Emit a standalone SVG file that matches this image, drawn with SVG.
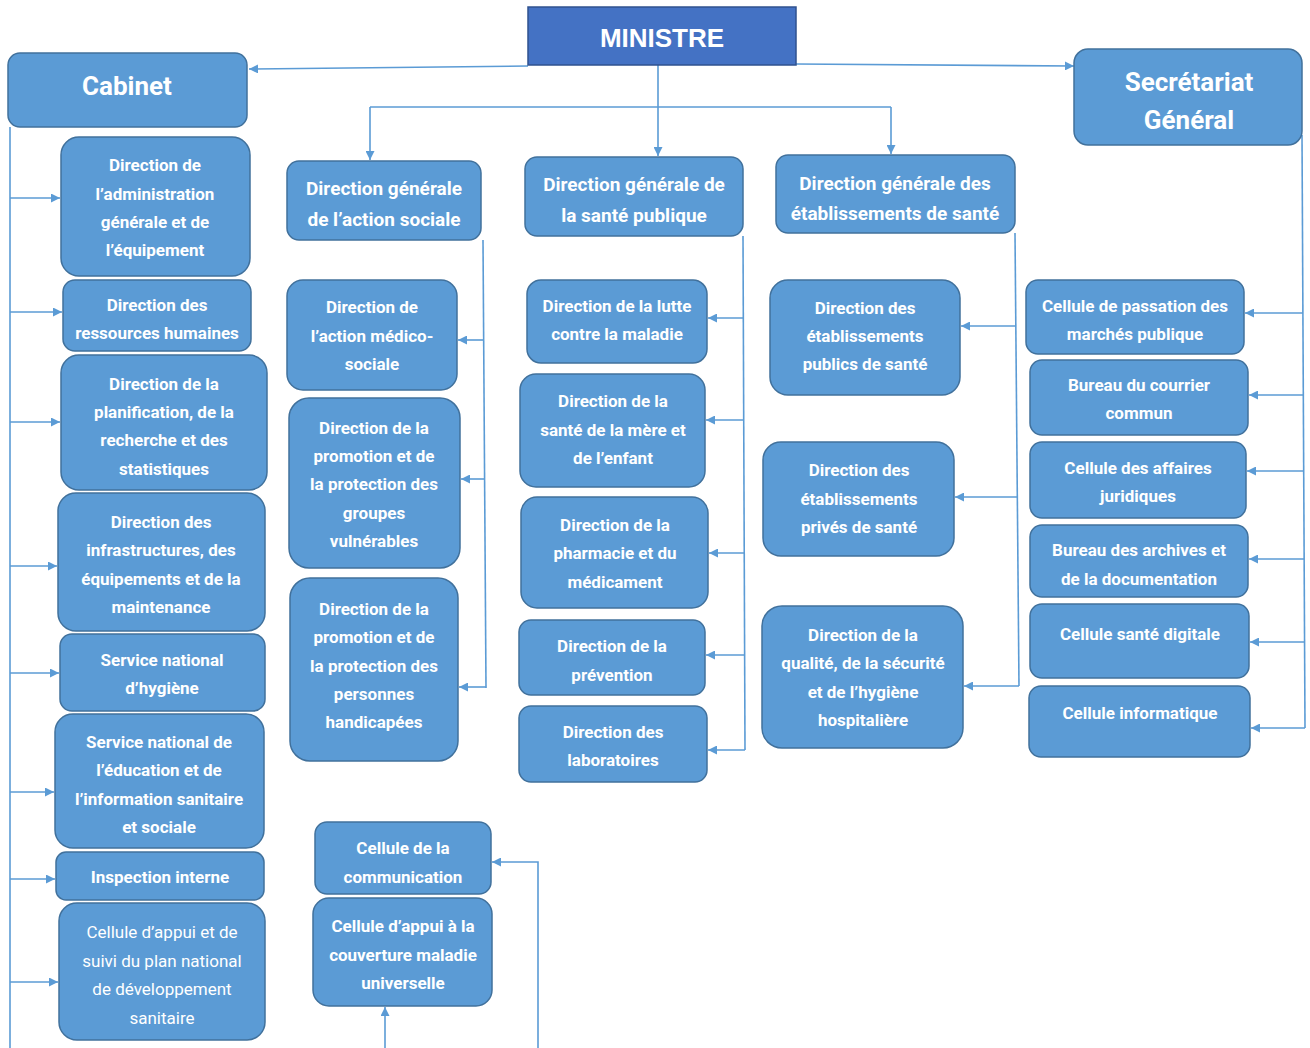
<svg xmlns="http://www.w3.org/2000/svg" width="1310" height="1048" viewBox="0 0 1310 1048">
<style>
.box{fill:#5B9BD5;stroke:#41719C;stroke-width:1.5}
.min{fill:#4472C4;stroke:#2F528F;stroke-width:1.5}
text{font-family:Roboto,"Liberation Sans",sans-serif;fill:#fff;text-anchor:middle;dominant-baseline:central}
.t{font-size:17px;font-weight:700}
.tn{font-size:17px;font-weight:400}
.tg{font-size:19px;font-weight:700}
.tb{font-size:26px;font-weight:700}
.tm{font-family:"Liberation Sans",Arial,sans-serif;font-size:26px;font-weight:700}
.c{fill:none;stroke:#5B9BD5;stroke-width:1.6}
.a{marker-end:url(#ah)}
</style>
<defs>
<marker id="ah" viewBox="0 0 10 10" refX="10" refY="5" markerWidth="9" markerHeight="9" markerUnits="userSpaceOnUse" orient="auto">
<path d="M0,0 L10,5 L0,10 z" fill="#5B9BD5"/>
</marker>
</defs>
<rect width="1310" height="1048" fill="#fff"/>
<g id="connectors">
<path class="c a" d="M528,66 L249,69"/>
<path class="c a" d="M796,64 L1074,66"/>
<path class="c a" d="M658,65 L658,156"/>
<path class="c" d="M370,107 L891,107"/>
<path class="c a" d="M370,107 L370,160"/>
<path class="c a" d="M891,107 L891,154"/>
<path class="c" d="M10,127 L10,1048"/>
<path class="c a" d="M10,198 L60,198"/>
<path class="c a" d="M10,312 L62,312"/>
<path class="c a" d="M10,422 L60,422"/>
<path class="c a" d="M10,566 L57,566"/>
<path class="c a" d="M10,673 L59,673"/>
<path class="c a" d="M10,792 L54,792"/>
<path class="c a" d="M10,879 L55,879"/>
<path class="c a" d="M10,982 L58,982"/>
<path class="c" d="M483,240 L486,688"/>
<path class="c a" d="M484,340 L458,340"/>
<path class="c a" d="M485,479 L461,479"/>
<path class="c a" d="M486,687 L459,687"/>
<path class="c" d="M743,236 L745,750"/>
<path class="c a" d="M744,318 L708,318"/>
<path class="c a" d="M744,420 L706,420"/>
<path class="c a" d="M745,553 L709,553"/>
<path class="c a" d="M745,655 L706,655"/>
<path class="c a" d="M745,750 L708,750"/>
<path class="c" d="M1015,233 L1019,686"/>
<path class="c a" d="M1016,326 L961,326"/>
<path class="c a" d="M1017,497 L955,497"/>
<path class="c a" d="M1019,686 L964,686"/>
<path class="c" d="M1302,135 L1305,728"/>
<path class="c a" d="M1303,313 L1245,313"/>
<path class="c a" d="M1303,395 L1249,395"/>
<path class="c a" d="M1304,471 L1247,471"/>
<path class="c a" d="M1304,559 L1249,559"/>
<path class="c a" d="M1305,642 L1250,642"/>
<path class="c a" d="M1305,728 L1251,728"/>
<path class="c a" d="M385,1048 L385,1007"/>
<path class="c a" d="M538,1048 L538,862 L492,862"/>
</g>
<g id="ministre"><rect class="min" x="528" y="7" width="268" height="58"/><text class="tm" x="662" y="38">MINISTRE</text></g>
<g id="cabinet"><rect class="box" x="8" y="53" width="239" height="74" rx="12"/><text class="tb" x="127" y="86">Cabinet</text></g>
<g id="sg"><rect class="box" x="1074" y="49" width="228" height="96" rx="14"/><text class="tb" x="1189" y="82">Secrétariat</text><text class="tb" x="1189" y="120">Général</text></g>

<g id="a1"><rect class="box" x="61" y="137" width="189" height="139" rx="18"/><text class="t" x="155" y="165">Direction de</text><text class="t" x="155" y="194">l’administration</text><text class="t" x="155" y="222">générale et de</text><text class="t" x="155" y="250">l’équipement</text></g>
<g id="a2"><rect class="box" x="63" y="280" width="188" height="71" rx="12"/><text class="t" x="157" y="305">Direction des</text><text class="t" x="157" y="333">ressources humaines</text></g>
<g id="a3"><rect class="box" x="61" y="355" width="206" height="135" rx="18"/><text class="t" x="164" y="384">Direction de la</text><text class="t" x="164" y="412">planification, de la</text><text class="t" x="164" y="440">recherche et des</text><text class="t" x="164" y="469">statistiques</text></g>
<g id="a4"><rect class="box" x="58" y="493" width="207" height="138" rx="18"/><text class="t" x="161" y="522">Direction des</text><text class="t" x="161" y="550">infrastructures, des</text><text class="t" x="161" y="579">équipements et de la</text><text class="t" x="161" y="607">maintenance</text></g>
<g id="a5"><rect class="box" x="60" y="634" width="205" height="77" rx="12"/><text class="t" x="162" y="660">Service national</text><text class="t" x="162" y="688">d’hygiène</text></g>
<g id="a6"><rect class="box" x="55" y="714" width="209" height="134" rx="18"/><text class="t" x="159" y="742">Service national de</text><text class="t" x="159" y="770">l’éducation et de</text><text class="t" x="159" y="799">l’information sanitaire</text><text class="t" x="159" y="827">et sociale</text></g>
<g id="a7"><rect class="box" x="56" y="852" width="208" height="48" rx="10"/><text class="t" x="160" y="877">Inspection interne</text></g>
<g id="a8"><rect class="box" x="59" y="903" width="206" height="137" rx="18"/><text class="tn" x="162" y="932">Cellule d’appui et de</text><text class="tn" x="162" y="961">suivi du plan national</text><text class="tn" x="162" y="989">de développement</text><text class="tn" x="162" y="1018">sanitaire</text></g>

<g id="b0"><rect class="box" x="287" y="161" width="194" height="79" rx="12"/><text class="tg" x="384" y="188">Direction générale</text><text class="tg" x="384" y="219">de l’action sociale</text></g>
<g id="b1"><rect class="box" x="287" y="280" width="170" height="110" rx="16"/><text class="t" x="372" y="307">Direction de</text><text class="t" x="372" y="336">l’action médico-</text><text class="t" x="372" y="364">sociale</text></g>
<g id="b2"><rect class="box" x="289" y="398" width="171" height="170" rx="20"/><text class="t" x="374" y="428">Direction de la</text><text class="t" x="374" y="456">promotion et de</text><text class="t" x="374" y="484">la protection des</text><text class="t" x="374" y="513">groupes</text><text class="t" x="374" y="541">vulnérables</text></g>
<g id="b3"><rect class="box" x="290" y="578" width="168" height="183" rx="20"/><text class="t" x="374" y="609">Direction de la</text><text class="t" x="374" y="637">promotion et de</text><text class="t" x="374" y="666">la protection des</text><text class="t" x="374" y="694">personnes</text><text class="t" x="374" y="722">handicapées</text></g>

<g id="c0"><rect class="box" x="525" y="157" width="218" height="79" rx="12"/><text class="tg" x="634" y="184">Direction générale de</text><text class="tg" x="634" y="215">la santé publique</text></g>
<g id="c1"><rect class="box" x="527" y="280" width="180" height="83" rx="14"/><text class="t" x="617" y="306">Direction de la lutte</text><text class="t" x="617" y="334">contre la maladie</text></g>
<g id="c2"><rect class="box" x="520" y="374" width="185" height="113" rx="16"/><text class="t" x="613" y="401">Direction de la</text><text class="t" x="613" y="430">santé de la mère et</text><text class="t" x="613" y="458">de l’enfant</text></g>
<g id="c3"><rect class="box" x="521" y="497" width="187" height="111" rx="16"/><text class="t" x="615" y="525">Direction de la</text><text class="t" x="615" y="553">pharmacie et du</text><text class="t" x="615" y="582">médicament</text></g>
<g id="c4"><rect class="box" x="519" y="620" width="186" height="75" rx="12"/><text class="t" x="612" y="646">Direction de la</text><text class="t" x="612" y="675">prévention</text></g>
<g id="c5"><rect class="box" x="519" y="706" width="188" height="76" rx="12"/><text class="t" x="613" y="732">Direction des</text><text class="t" x="613" y="760">laboratoires</text></g>

<g id="d0"><rect class="box" x="776" y="155" width="239" height="78" rx="12"/><text class="tg" x="895" y="183">Direction générale des</text><text class="tg" x="895" y="213">établissements de santé</text></g>
<g id="d1"><rect class="box" x="770" y="280" width="190" height="115" rx="18"/><text class="t" x="865" y="308">Direction des</text><text class="t" x="865" y="336">établissements</text><text class="t" x="865" y="364">publics de santé</text></g>
<g id="d2"><rect class="box" x="763" y="442" width="191" height="114" rx="18"/><text class="t" x="859" y="470">Direction des</text><text class="t" x="859" y="499">établissements</text><text class="t" x="859" y="527">privés de santé</text></g>
<g id="d3"><rect class="box" x="762" y="606" width="201" height="142" rx="20"/><text class="t" x="863" y="635">Direction de la</text><text class="t" x="863" y="663">qualité, de la sécurité</text><text class="t" x="863" y="692">et de l’hygiène</text><text class="t" x="863" y="720">hospitalière</text></g>

<g id="e1"><rect class="box" x="1026" y="280" width="218" height="74" rx="12"/><text class="t" x="1135" y="306">Cellule de passation des</text><text class="t" x="1135" y="334">marchés publique</text></g>
<g id="e2"><rect class="box" x="1030" y="360" width="218" height="75" rx="12"/><text class="t" x="1139" y="385">Bureau du courrier</text><text class="t" x="1139" y="413">commun</text></g>
<g id="e3"><rect class="box" x="1030" y="442" width="216" height="76" rx="12"/><text class="t" x="1138" y="468">Cellule des affaires</text><text class="t" x="1138" y="496">juridiques</text></g>
<g id="e4"><rect class="box" x="1030" y="525" width="218" height="72" rx="12"/><text class="t" x="1139" y="550">Bureau des archives et</text><text class="t" x="1139" y="579">de la documentation</text></g>
<g id="e5"><rect class="box" x="1030" y="604" width="219" height="74" rx="12"/><text class="t" x="1140" y="634">Cellule santé digitale</text></g>
<g id="e6"><rect class="box" x="1029" y="686" width="221" height="71" rx="12"/><text class="t" x="1140" y="713">Cellule informatique</text></g>

<g id="f1"><rect class="box" x="315" y="822" width="176" height="72" rx="12"/><text class="t" x="403" y="848">Cellule de la</text><text class="t" x="403" y="877">communication</text></g>
<g id="f2"><rect class="box" x="313" y="898" width="179" height="108" rx="16"/><text class="t" x="403" y="926">Cellule d’appui à la</text><text class="t" x="403" y="955">couverture maladie</text><text class="t" x="403" y="983">universelle</text></g>
</svg>
